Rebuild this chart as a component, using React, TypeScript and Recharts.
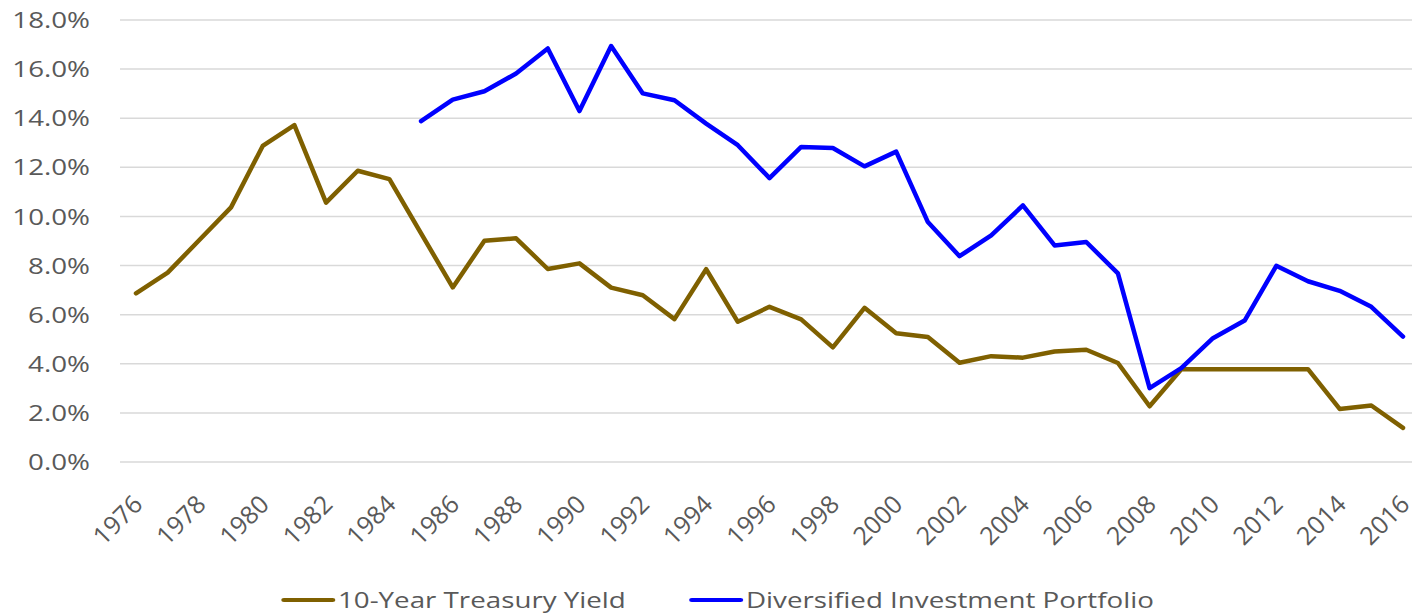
import { LineChart, Line, XAxis, YAxis, CartesianGrid, Legend } from 'recharts';

// years on the category axis
const years = [
  1976, 1977, 1978, 1979, 1980, 1981, 1982, 1983, 1984, 1985,
  1986, 1987, 1988, 1989, 1990, 1991, 1992, 1993, 1994, 1995,
  1996, 1997, 1998, 1999, 2000, 2001, 2002, 2003, 2004, 2005,
  2006, 2007, 2008, 2009, 2010, 2011, 2012, 2013, 2014, 2015, 2016,
];

// 10-Year Treasury Yield, %
const treasury = [
  6.87, 7.71, 9.04, 10.37, 12.87, 13.72, 10.56, 11.86, 11.52, 9.31,
  7.11, 9.01, 9.11, 7.86, 8.09, 7.10, 6.79, 5.82, 7.85, 5.71,
  6.32, 5.81, 4.67, 6.28, 5.24, 5.09, 4.04, 4.31, 4.25, 4.50,
  4.57, 4.03, 2.27, 3.78, 3.78, 3.78, 3.78, 3.78, 2.16, 2.30, 1.39,
];

// Diversified Investment Portfolio, % (starts 1985)
const portfolio = [
  null, null, null, null, null, null, null, null, null, 13.88,
  14.76, 15.10, 15.82, 16.84, 14.29, 16.94, 15.01, 14.73, 13.78, 12.90,
  11.56, 12.83, 12.79, 12.04, 12.64, 9.77, 8.38, 9.23, 10.45, 8.82,
  8.96, 7.68, 3.01, 3.82, 5.04, 5.76, 7.99, 7.36, 6.97, 6.32, 5.11,
];

const yTicks = [0, 2, 4, 6, 8, 10, 12, 14, 16, 18];

const seriesNames = ['10-Year Treasury Yield', 'Diversified Investment Portfolio'];
const seriesColors = ['#7F6000', '#0000FF'];

const data = years.map((y, i) => ({
  year: String(y),
  treasury: treasury[i],
  portfolio: portfolio[i],
}));

const FONT = '"Open Sans", sans-serif';
const TEXT = '#595959';
const STRETCH = 1.32;

const YTick = (props: any) => {
  const { x, y, payload } = props;
  return (
    <text
      transform={`translate(${x},${y}) scale(${STRETCH},1)`}
      textAnchor="end"
      dominantBaseline="central"
      fontFamily={FONT}
      fontSize={21}
      fill={TEXT}
    >
      {payload.value.toFixed(1) + '%'}
    </text>
  );
};

const XTick = (props: any) => {
  const { x, y, payload } = props;
  return (
    <text
      transform={`translate(${x + 8},${y + 44}) rotate(-45)`}
      textAnchor="end"
      fontFamily={FONT}
      fontSize={25}
      fill={TEXT}
    >
      {payload.value}
    </text>
  );
};

const LegendContent = () => (
  <div style={{ display: 'flex', justifyContent: 'center', paddingLeft: 24 }}>
    <div
      style={{
        display: 'flex',
        alignItems: 'center',
        transform: `scaleX(${STRETCH})`,
        fontFamily: FONT,
        fontSize: 21,
        color: TEXT,
        lineHeight: '30px',
        whiteSpace: 'nowrap',
      }}
    >
      {seriesNames.map((name, i) => (
        <div key={name} style={{ display: 'flex', alignItems: 'center', marginLeft: i ? 48 : 0 }}>
          <span
            style={{
              display: 'inline-block',
              width: 41,
              height: 4,
              borderRadius: 2,
              background: seriesColors[i],
              marginRight: 2,
            }}
          />
          <span>{name}</span>
        </div>
      ))}
    </div>
  </div>
);

export default function App() {
  return (
    <div style={{ position: 'absolute', left: 0, top: 0, width: 1412, height: 615, background: '#fff' }}>
      <LineChart width={1412} height={615} data={data} margin={{ top: 20, right: 0, bottom: 0, left: 0 }}>
        <CartesianGrid vertical={false} stroke="#D9D9D9" strokeWidth={1.5} />
        <XAxis
          dataKey="year"
          interval={1}
          axisLine={false}
          tickLine={false}
          tickSize={0}
          tickMargin={0}
          height={123}
          padding={{ left: 16, right: 9 }}
          tick={<XTick />}
        />
        <YAxis
          width={120}
          domain={[0, 18]}
          ticks={yTicks}
          axisLine={false}
          tickLine={false}
          tickSize={0}
          tickMargin={30}
          tick={<YTick />}
        />
        <Legend verticalAlign="bottom" height={30} content={<LegendContent />} wrapperStyle={{ bottom: 0 }} />
        <Line
          type="linear"
          dataKey="treasury"
          name={seriesNames[0]}
          stroke={seriesColors[0]}
          strokeWidth={4.5}
          strokeLinecap="round"
          strokeLinejoin="round"
          dot={false}
          isAnimationActive={false}
        />
        <Line
          type="linear"
          dataKey="portfolio"
          name={seriesNames[1]}
          stroke={seriesColors[1]}
          strokeWidth={4.5}
          strokeLinecap="round"
          strokeLinejoin="round"
          dot={false}
          isAnimationActive={false}
        />
      </LineChart>
    </div>
  );
}
